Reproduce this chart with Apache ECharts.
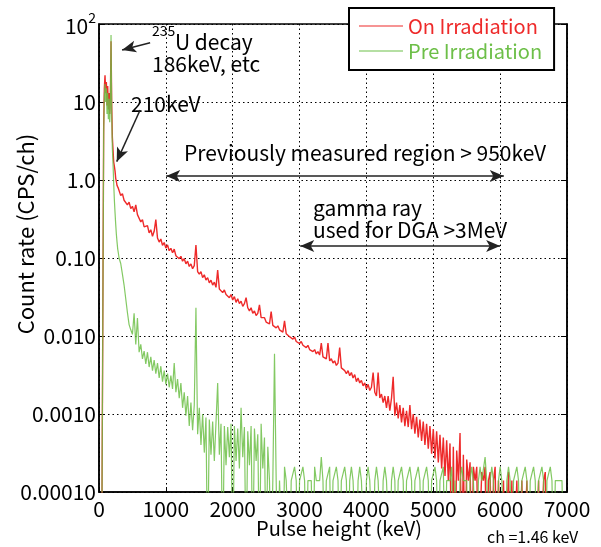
<!DOCTYPE html>
<html><head><meta charset="utf-8">
<script src="https://cdn.jsdelivr.net/npm/echarts@6/dist/echarts.min.js"></script>
<style>html,body{margin:0;padding:0;background:#fff}#c{width:601px;height:547px}</style>
</head><body><div id="c"></div>
<script>
// ---- data (CPS/ch); 0 = no counts in that channel ----
const lowEnergies = [0,10,20,30,40,50,60,70,80,90,100,110,120,130,140,150,160,170,180,190,200,210,220,230,240,250,260,270,280,290];
const gridStartKeV = 300, gridStepKeV = 25, gridEndKeV = 7000;

const redLow = [0,0,0,0,0,0,0,5,15,22,13,18,9,16,8,13,7,11,60,9,3.5,2.4,1.7,1.5,1.3,1.05,0.95,0.85,0.9,0.78];
const greenLow = [0,0,0,0,0,0,0,4,12,17,10,15,7,13,6,11,5.5,9,72,7,2.5,1.6,0.9,0.55,0.38,0.27,0.2,0.16,0.13,0.115];

const redHigh = [
 0.74,0.63,0.67,0.55,0.58,0.48,0.52,0.43,
 0.46,0.39,0.48,0.36,0.34,0.29,0.31,0.25,
 0.24,0.26,0.21,0.23,0.19,0.22,0.31,0.18,
 0.16,0.175,0.145,0.158,0.134,0.147,0.124,0.133,
 0.117,0.13,0.107,0.113,0.098,0.105,0.091,0.098,
 0.084,0.091,0.078,0.084,0.073,0.08,0.147,0.067,
 0.062,0.067,0.056,0.061,0.052,0.056,0.048,0.052,
 0.045,0.049,0.042,0.07,0.04,0.042,0.036,0.039,
 0.034,0.036,0.031,0.034,0.029,0.032,0.027,0.03,
 0.026,0.028,0.024,0.026,0.031,0.023,0.021,0.023,
 0.0195,0.021,0.0183,0.0195,0.025,0.0172,0.0163,0.0172,
 0.0151,0.016,0.0143,0.0205,0.0137,0.0144,0.0127,0.0135,
 0.012,0.0127,0.0112,0.0156,0.0107,0.0105,0.0098,0.0103,
 0.0091,0.0097,0.0085,0.009,0.008,0.0085,0.0076,0.008,
 0.0071,0.0076,0.0067,0.0071,0.0063,0.0067,0.0059,0.0063,
 0.0057,0.0081,0.0054,0.0057,0.0051,0.0081,0.0048,0.0051,
 0.0045,0.0048,0.0042,0.0045,0.0071,0.0039,0.0038,0.0036,
 0.0033,0.0036,0.0031,0.0034,0.0029,0.0032,0.0026,0.0029,
 0.0025,0.0027,0.0023,0.0025,0.0021,0.0024,0.002,0.0022,
 0.0034,0.0019,0.0017,0.0034,0.0016,0.0018,0.0014,0.0017,
 0.0012,0.0017,0.0011,0.0016,0.003,0.00095,0.0014,0.00088,
 0.0013,0.00078,0.0012,0.0007,0.0011,0.00068,0.0013,0.00064,
 0.001,0.00056,0.00092,0.0005,0.00085,0.00045,0.0008,0.0004,
 0.00075,0.00036,0.0007,0.00031,0.00064,0.00027,0.0006,0.00024,
 0.00054,0.0002,0.0005,0.00016,0.00046,0.00014,0.00042,0,
 0.00038,0,0.00034,0.00014,0.00057,0,0.0003,0,
 0.00026,0.00014,0.00024,0,0.00021,0.00014,0.00021,0,
 0,0.00018,0.00014,0.00021,0,0.00014,0.00018,0,
 0.00014,0.00021,0,0.00014,0.00014,0,0.00014,0,
 0,0.00018,0,0.00014,0,0,0.00014,0,
 0,0.00014,0,0,0.00014,0,0,0,
 0,0,0,0.00014,0,0,0.00014,0.00018,
 0,0,0,0,0,0,0,0,
 0,0,0,0,0
];
const greenHigh = [
 0.10,0.085,0.062,0.045,0.03,0.02,0.014,0.012,
 0.0105,0.0195,0.0078,0.017,0.0062,0.0078,0.0051,0.0064,
 0.0044,0.0062,0.004,0.0054,0.0036,0.0049,0.0033,0.0045,
 0.0029,0.0041,0.0026,0.0036,0.0024,0.0033,0.0022,0.0031,
 0.0021,0.0045,0.0019,0.0028,0.0016,0.0025,0.0012,0.0019,
 0.00095,0.0017,0.0007,0.0014,0.00062,0.0013,0.023,0.00055,
 0.0012,0.0004,0.001,0.00032,0.0009,0,0.00085,0.0003,
 0.0008,0.00025,0.00078,0.0025,0.0003,0.00075,0,0.0007,
 0.00022,0.00068,0.00028,0.00075,0,0.0007,0.00025,0.00065,
 0.0002,0.0012,0.00028,0.00068,0,0.0006,0.00022,0.0007,
 0,0.00065,0.00025,0.00055,0,0.00075,0.0002,0.0005,
 0,0.00038,0.00014,0,0.00014,0.0059,0.00014,0,
 0.00014,0.00014,0,0.00021,0.00014,0.00014,0,0.00014,
 0.00014,0.00021,0.00014,0,0.00014,0.00014,0.00021,0.00014,
 0,0.00014,0.00014,0.00014,0,0.00021,0.00014,0.00014,
 0.00014,0.00028,0.00014,0,0.00014,0.00014,0.00021,0,
 0.00014,0.00014,0.00021,0.00014,0,0.00014,0.00014,0.00021,
 0.00014,0,0.00014,0.00021,0.00014,0.00014,0,0.00014,
 0.00021,0.00014,0.00014,0,0.00014,0.00021,0.00014,0.00014,
 0,0.00014,0.00021,0.00014,0.00014,0,0.00014,0.00021,
 0.00014,0.00014,0,0.00014,0.00021,0.00014,0,0.00014,
 0.00014,0.00021,0.00014,0,0.00014,0.00014,0.00021,0.00014,
 0,0.00014,0.00014,0.00021,0.00014,0,0.00014,0.00014,
 0.00021,0.00014,0,0.00014,0.00014,0.00021,0.00014,0,
 0.00014,0.00014,0.00021,0,0.00014,0.00014,0.00014,0.00021,
 0,0.00014,0.00014,0,0.00014,0.00021,0.00014,0.00014,
 0.00014,0,0.00014,0.00021,0.00014,0.00014,0,0.00014,
 0.00021,0.00014,0.00014,0.00028,0.00014,0,0.00014,0.00021,
 0.00014,0.00014,0,0.00014,0.00021,0.00014,0.00014,0,
 0.00014,0.00021,0.00014,0,0.00014,0.00014,0.00021,0.00014,
 0,0.00014,0.00014,0.00021,0.00014,0,0.00014,0.00014,
 0.00021,0.00014,0,0.00014,0.00014,0.00021,0.00014,0,
 0.00014,0.00014,0.00021,0.00014,0,0.00014,0.00014,0.00014,
 0.00014,0.00014,0,0,0
];

const seriesNames = ['On Irradiation', 'Pre Irradiation'];
const yTickLabels = ['0.00010','0.0010','0.010','0.10','1.0','10','10²']; // 1e-4 .. 1e2

// ---- build ----
const highEnergies = [];
for (let e = gridStartKeV; e <= gridEndKeV; e += gridStepKeV) highEnergies.push(e);
const energies = lowEnergies.concat(highEnergies);
const BELOW_AXIS = 1e-5; // zero counts drop below the log axis and get clipped
function pairs(vals) { return energies.map((e, i) => [e, vals[i] > 0 ? vals[i] : BELOW_AXIS]); }
const redData = pairs(redLow.concat(redHigh));
const greenData = pairs(greenLow.concat(greenHigh));

const FONT = '"Noto Sans CJK JP", "Noto Sans", sans-serif';
const RED = '#ee2a2a', GREEN = '#6dbf48';
const chart = echarts.init(document.getElementById('c'), null, {renderer: 'canvas'});
const dotted = {type: [1.5, 3], color: '#000', width: 1};
function txt(x, y, text, size, extra) {
  return {type: 'text', x: x, y: y, style: Object.assign({text: text, fill: '#000', font: size + 'px ' + FONT, textVerticalAlign: 'middle', verticalAlign: 'middle'}, extra || {})};
}

chart.setOption({
  animation: false,
  backgroundColor: '#fff',
  grid: {left: 99, right: 34, top: 24, bottom: 55, show: true, borderColor: '#000', borderWidth: 1.5, backgroundColor: 'transparent'},
  legend: {
    left: 349, top: 8, orient: 'vertical', backgroundColor: '#fff', borderColor: '#000', borderWidth: 2,
    padding: [8, 12, 9, 10], itemGap: 5, itemWidth: 44, itemHeight: 1.2, itemTextGap: 7, icon: 'rect',
    textStyle: {fontSize: 20, fontFamily: FONT},
    data: [{name: seriesNames[0], textStyle: {color: RED}}, {name: seriesNames[1], textStyle: {color: GREEN}}]
  },
  xAxis: {
    type: 'value', min: 0, max: 7000, interval: 1000,
    axisLine: {show: true, lineStyle: {color: '#000', width: 1.5}},
    axisTick: {show: true, inside: true, length: 5, lineStyle: {color: '#000'}},
    axisLabel: {color: '#000', fontSize: 21, fontFamily: FONT, margin: 7, formatter: v => String(v)},
    splitLine: {show: true, lineStyle: dotted}
  },
  yAxis: [{
    type: 'log', logBase: 10, min: 1e-4, max: 100,
    axisLine: {show: true, lineStyle: {color: '#000', width: 1.5}},
    axisTick: {show: true, inside: true, length: 6, lineStyle: {color: '#000'}},
    axisLabel: {
      color: '#000', fontSize: 21, fontFamily: FONT, margin: 3,
      formatter: v => {
        const t = yTickLabels[Math.round(Math.log10(v)) + 4];
        return t === '10²' ? '{m|10}{s|2}' : t;
      },
      rich: {m: {fontSize: 21, fontFamily: FONT, color: '#000', lineHeight: 26, verticalAlign: 'bottom'},
             s: {fontSize: 14, fontFamily: FONT, color: '#000', verticalAlign: 'top', lineHeight: 26}}
    },
    splitLine: {show: true, lineStyle: dotted}
  }, {
    type: 'log', logBase: 10, min: 1e-4, max: 100, position: 'right',
    axisLine: {show: true, lineStyle: {color: '#000', width: 1.5}},
    axisTick: {show: true, inside: true, length: 6, lineStyle: {color: '#000'}},
    axisLabel: {show: false}, splitLine: {show: false}
  }],
  series: [{
    name: seriesNames[0], type: 'line', data: redData, yAxisIndex: 0,
    symbol: 'none', clip: true, lineStyle: {color: RED, width: 1.4}, itemStyle: {color: RED},
    markLine: {
      silent: true, symbol: ['arrow', 'arrow'], symbolSize: [9, 14], label: {show: false},
      lineStyle: {color: '#222', width: 1.5, type: 'solid'},
      emphasis: {disabled: true},
      data: [
        [{coord: [1005, 1.125]}, {coord: [6055, 1.125]}],
        [{coord: [3010, 0.1425]}, {coord: [6000, 0.1425]}],
        [{coord: [765, 57.6], symbol: 'none'}, {coord: [345, 46.4], symbol: 'arrow'}],
        [{coord: [615, 7.9], symbol: 'none'}, {coord: [265, 1.72], symbol: 'arrow'}]
      ]
    }
  }, {
    name: seriesNames[1], type: 'line', data: greenData, yAxisIndex: 0,
    symbol: 'none', clip: true, lineStyle: {color: GREEN, width: 1.2, opacity: 0.85}, itemStyle: {color: GREEN}
  }],
  graphic: [
    Object.assign(txt(26, 234, 'Count rate (CPS/ch)', 22, {textAlign: 'center', align: 'center'}), {rotation: Math.PI / 2}),
    txt(339, 528, 'Pulse height (keV)', 20, {textAlign: 'center', align: 'center'}),
    txt(487, 537, 'ch =1.46 keV', 16),
    txt(152, 31, '235', 14),
    txt(175, 42, 'U decay', 21),
    txt(152, 64, '186keV, etc', 21),
    txt(131, 104, '210keV', 21),
    txt(184, 153, 'Previously measured region > 950keV', 21),
    txt(313, 208, 'gamma ray', 21),
    txt(313, 230, 'used for DGA >3MeV', 21)
  ]
});
</script></body></html>
